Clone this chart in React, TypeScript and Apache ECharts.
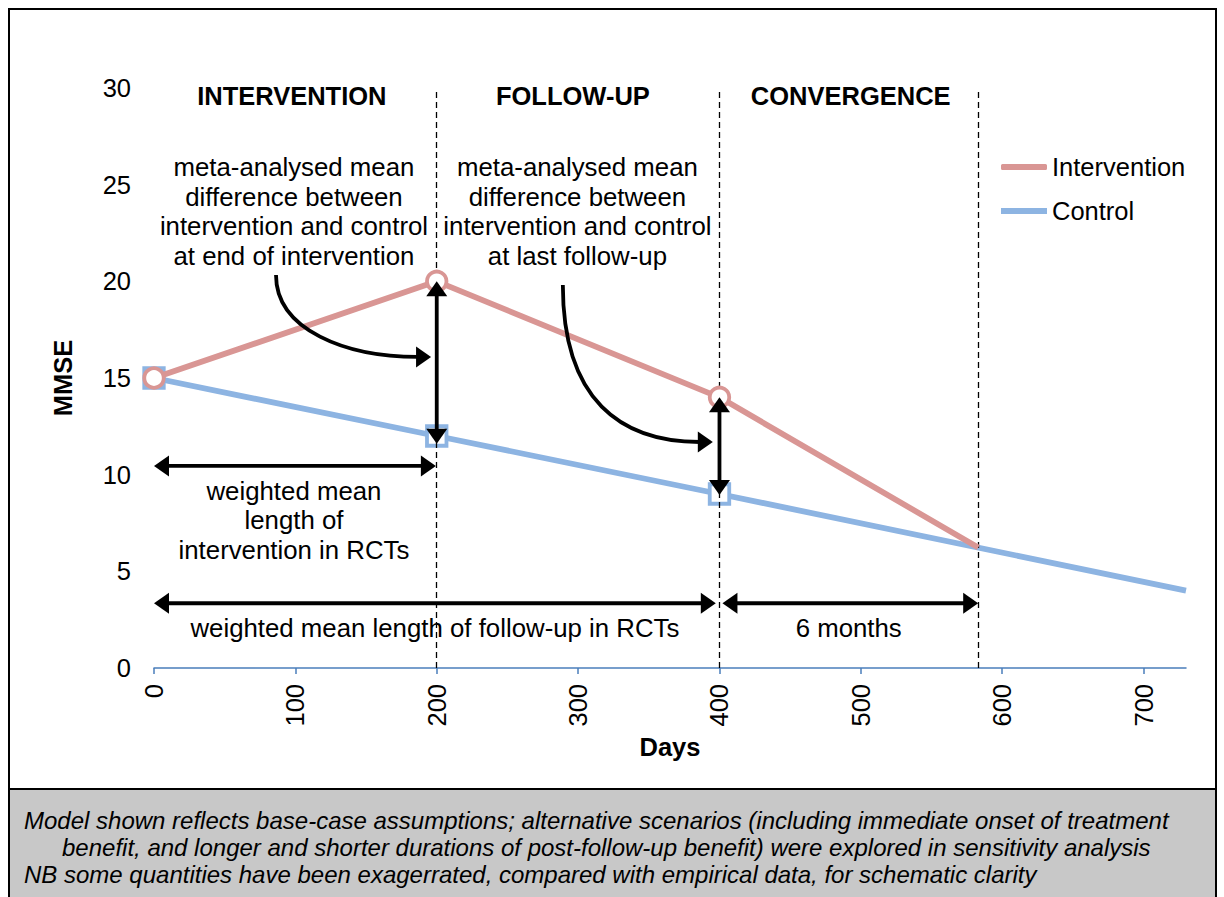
import React, { useEffect, useRef } from 'react';
import * as echarts from 'echarts';

const FONT = 'Arial, "Liberation Sans", sans-serif';
const PINK = '#d99694';
const BLUE = '#8db4e2';
const AXIS_BLUE = '#4a7ebb';

const xTickValues = [0, 100, 200, 300, 400, 500, 600, 700];
const interventionData = [[0, 15], [200, 20], [400, 14], [583, 6.23]];
const controlData = [[0, 15], [200, 12], [400, 9], [730, 4]];
const markerDays = [0, 200, 400];
const phaseBoundaries = [200, 400, 583];

const phaseLabels = ['INTERVENTION', 'FOLLOW-UP', 'CONVERGENCE'];
const phaseLabelPos = [[97.5, 29.6], [296.3, 29.6], [492.8, 29.6]];

const noteTexts = [
  'meta-analysed mean\ndifference between\nintervention and control\nat end of intervention',
  'meta-analysed mean\ndifference between\nintervention and control\nat last follow-up',
  'weighted mean\nlength of\nintervention in RCTs',
  'weighted mean length of follow-up in RCTs',
  '6 months',
];
const notePos = [[99, 23.61], [299.5, 23.61], [99, 7.63], [198.7, 2.07], [491.4, 2.07]];

// [x1, y1, x2, y2] double-headed arrows
const doubleArrows = [
  [200, 20, 200, 11.6],
  [400, 14, 400, 8.95],
  [0, 10.45, 199.4, 10.45],
  [0, 3.35, 397.4, 3.35],
  [402.1, 3.35, 583, 3.35],
];
// [x0, y0, cx1, cy1, cx2, cy2, x3, y3] curved arrows (head at end)
const curvedArrows = [
  [86.3, 20.33, 86.3, 17.48, 135.8, 16.09, 196, 16.09],
  [289.2, 19.81, 289.2, 13.86, 330.2, 11.69, 395.3, 11.69],
];

const captionLines = [
  'Model shown reflects base-case assumptions; alternative scenarios (including immediate onset of treatment',
  'benefit, and longer and shorter durations of post-follow-up benefit) were explored in sensitivity analysis',
  'NB some quantities have been exagerrated, compared with empirical data, for schematic clarity',
];

const HL = 15;
const HW = 10.5;

function head(tip: number[], ux: number, uy: number) {
  const bx = tip[0] - ux * HL;
  const by = tip[1] - uy * HL;
  const px = -uy;
  const py = ux;
  return {
    type: 'polygon',
    shape: { points: [[tip[0], tip[1]], [bx + px * HW, by + py * HW], [bx - px * HW, by - py * HW]] },
    style: { fill: '#000' },
  };
}

export default function App() {
  const ref = useRef<HTMLDivElement>(null);
  useEffect(() => {
    if (!ref.current) return;
    const chart = echarts.init(ref.current, null, { renderer: 'svg' });

    const markerItem = (pt: number[], symbol: string, color: string) =>
      markerDays.includes(pt[0])
        ? { value: pt, symbol, symbolSize: 19.5, itemStyle: { color: '#fff', borderColor: color, borderWidth: 3.8 } }
        : { value: pt, symbol: 'none' };

    const option: any = {
      animation: false,
      textStyle: { fontFamily: FONT },
      grid: { left: 154, right: 38, top: 88, bottom: 229, containLabel: false },
      legend: {
        orient: 'vertical',
        left: 996,
        top: 149,
        itemWidth: 46,
        itemHeight: 6,
        itemGap: 18,
        selectedMode: false,
        textStyle: { fontSize: 25.5, color: '#000', fontFamily: FONT, lineHeight: 26 },
        data: [
          { name: 'Intervention', icon: 'roundRect', itemStyle: { color: PINK, borderWidth: 0 } },
          { name: 'Control', icon: 'rect', itemStyle: { color: BLUE, borderWidth: 0 } },
        ],
      },
      xAxis: {
        type: 'value',
        min: 0,
        max: 730,
        interval: 100,
        name: 'Days',
        nameLocation: 'middle',
        nameGap: 66,
        nameTextStyle: { fontSize: 25.5, fontWeight: 'bold', color: '#000', fontFamily: FONT },
        axisLine: { show: true, onZero: false, lineStyle: { color: AXIS_BLUE, width: 1.5 } },
        axisTick: { show: true, length: 6, customValues: xTickValues, lineStyle: { color: AXIS_BLUE, width: 1.5 } },
        axisLabel: { rotate: 90, margin: 16, fontSize: 25.5, color: '#000', fontFamily: FONT, customValues: xTickValues },
        splitLine: { show: false },
      },
      yAxis: {
        type: 'value',
        min: 0,
        max: 30,
        interval: 5,
        name: 'MMSE',
        nameLocation: 'middle',
        nameGap: 78,
        nameTextStyle: { fontSize: 25.5, fontWeight: 'bold', color: '#000', fontFamily: FONT },
        axisLine: { show: false },
        axisTick: { show: false },
        axisLabel: { margin: 23, fontSize: 25.5, color: '#000', fontFamily: FONT },
        splitLine: { show: false },
      },
      series: [
        {
          name: 'Control',
          type: 'line',
          data: controlData.map((p) => markerItem(p, 'rect', BLUE)),
          lineStyle: { color: BLUE, width: 5.8 },
          itemStyle: { color: BLUE },
          showAllSymbol: true,
          symbol: 'rect',
          emphasis: { disabled: true },
          silent: true,
          z: 2,
          markLine: {
            silent: true,
            symbol: 'none',
            label: { show: false },
            lineStyle: { color: '#000', type: [6, 4], width: 1.3 },
            data: phaseBoundaries.map((d) => ({ xAxis: d })),
            z: 3,
          },
        },
        {
          name: 'Intervention',
          type: 'line',
          data: interventionData.map((p) => markerItem(p, 'circle', PINK)),
          lineStyle: { color: PINK, width: 5.8 },
          itemStyle: { color: PINK },
          showAllSymbol: true,
          symbol: 'circle',
          emphasis: { disabled: true },
          silent: true,
          z: 3,
        },
        {
          name: 'arrows',
          type: 'custom',
          silent: true,
          z: 10,
          data: doubleArrows,
          encode: { x: [0, 2], y: [1, 3] },
          renderItem: (params: any, api: any) => {
            const a = api.coord([api.value(0), api.value(1)]);
            const b = api.coord([api.value(2), api.value(3)]);
            const dx = b[0] - a[0];
            const dy = b[1] - a[1];
            const len = Math.hypot(dx, dy) || 1;
            const ux = dx / len;
            const uy = dy / len;
            return {
              type: 'group',
              children: [
                {
                  type: 'line',
                  shape: {
                    x1: a[0] + ux * (HL - 2), y1: a[1] + uy * (HL - 2),
                    x2: b[0] - ux * (HL - 2), y2: b[1] - uy * (HL - 2),
                  },
                  style: { stroke: '#000', lineWidth: 3.8 },
                },
                head(b, ux, uy),
                head(a, -ux, -uy),
              ],
            };
          },
        },
        {
          name: 'curves',
          type: 'custom',
          silent: true,
          z: 10,
          data: curvedArrows,
          encode: { x: [0, 6], y: [1, 7] },
          renderItem: (params: any, api: any) => {
            const p0 = api.coord([api.value(0), api.value(1)]);
            const c1 = api.coord([api.value(2), api.value(3)]);
            const c2 = api.coord([api.value(4), api.value(5)]);
            const p3 = api.coord([api.value(6), api.value(7)]);
            const dx = p3[0] - c2[0];
            const dy = p3[1] - c2[1];
            const len = Math.hypot(dx, dy) || 1;
            const ux = dx / len;
            const uy = dy / len;
            return {
              type: 'group',
              children: [
                {
                  type: 'bezierCurve',
                  shape: {
                    x1: p0[0], y1: p0[1],
                    cpx1: c1[0], cpy1: c1[1],
                    cpx2: c2[0], cpy2: c2[1],
                    x2: p3[0] - ux * (HL - 2), y2: p3[1] - uy * (HL - 2),
                  },
                  style: { stroke: '#000', lineWidth: 3.8, fill: null },
                },
                head(p3, ux, uy),
              ],
            };
          },
        },
        {
          name: 'phases',
          type: 'custom',
          silent: true,
          z: 11,
          data: phaseLabelPos,
          renderItem: (params: any, api: any) => {
            const p = api.coord([api.value(0), api.value(1)]);
            return {
              type: 'text',
              x: p[0],
              y: p[1],
              style: {
                text: phaseLabels[params.dataIndex],
                fill: '#000',
                fontSize: 25.5,
                fontWeight: 'bold',
                fontFamily: FONT,
                align: 'center',
                verticalAlign: 'middle',
              },
            };
          },
        },
        {
          name: 'notes',
          type: 'custom',
          silent: true,
          z: 11,
          data: notePos,
          renderItem: (params: any, api: any) => {
            const p = api.coord([api.value(0), api.value(1)]);
            return {
              type: 'text',
              x: p[0],
              y: p[1],
              style: {
                text: noteTexts[params.dataIndex],
                fill: '#000',
                fontSize: 25.8,
                fontFamily: FONT,
                lineHeight: 29.7,
                align: 'center',
                verticalAlign: 'middle',
              },
            };
          },
        },
      ],
      graphic: [
        {
          type: 'rect',
          silent: true,
          shape: { x: 9, y: 9, width: 1207, height: 900 },
          style: { fill: 'none', stroke: '#000', lineWidth: 2 },
          z: 100,
        },
        {
          type: 'rect',
          silent: true,
          shape: { x: 9, y: 789, width: 1207, height: 120 },
          style: { fill: '#c8c8c8', stroke: '#000', lineWidth: 2 },
          z: 99,
        },
        {
          type: 'text',
          silent: true,
          x: 24,
          y: 820,
          style: { text: captionLines[0], fill: '#000', fontSize: 24, fontStyle: 'italic', fontFamily: FONT, verticalAlign: 'middle', align: 'left' },
          z: 101,
        },
        {
          type: 'text',
          silent: true,
          x: 62,
          y: 847,
          style: { text: captionLines[1], fill: '#000', fontSize: 24, fontStyle: 'italic', fontFamily: FONT, verticalAlign: 'middle', align: 'left' },
          z: 101,
        },
        {
          type: 'text',
          silent: true,
          x: 24,
          y: 874,
          style: { text: captionLines[2], fill: '#000', fontSize: 24, fontStyle: 'italic', fontFamily: FONT, verticalAlign: 'middle', align: 'left' },
          z: 101,
        },
      ],
    };

    chart.setOption(option);
    return () => chart.dispose();
  }, []);

  return (
    <div
      ref={ref}
      style={{ position: 'fixed', left: 0, top: 0, width: 1224, height: 897, background: '#fff' }}
    />
  );
}
